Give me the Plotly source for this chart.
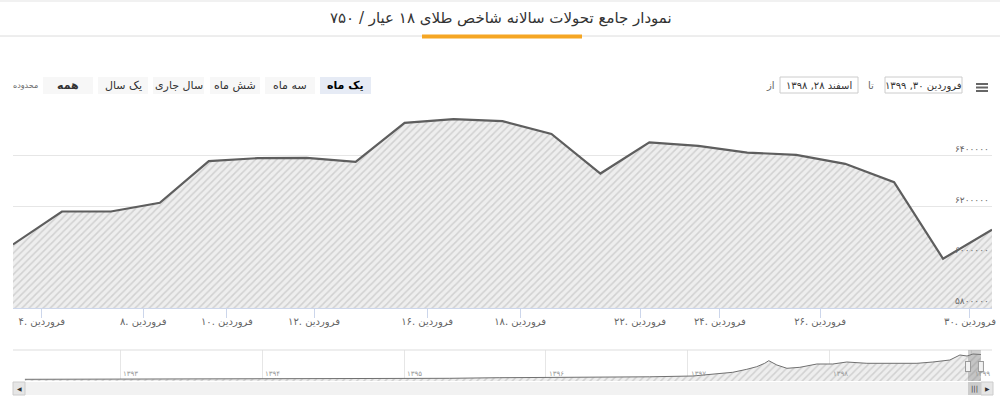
import plotly.graph_objects as go

# ---------------- data ----------------
# main series: 18k gold index (rial), ordinal trading points, Esfand 28 1398 -> Farvardin 30 1399
prices = [6050400, 6180300, 6180300, 6214600, 6378700, 6390600, 6391700, 6376000,
          6529500, 6544100, 6536200, 6486200, 6329900, 6452800, 6439000, 6412600,
          6403500, 6368100, 6296100, 5994100, 6108300]
point_index = list(range(len(prices)))

# x-axis ticks (ordinal positions of the date ticks) and their labels
x_tick_pos = [0.59, 2.66, 4.37, 6.15, 8.46, 10.36, 12.81, 14.44, 16.49, 19.55]
x_tick_text = ["۴. فروردین", "۸. فروردین", "۱۰. فروردین", "۱۲. فروردین", "۱۶. فروردین",
               "۱۸. فروردین", "۲۲. فروردین", "۲۴. فروردین", "۲۶. فروردین", "۳۰. فروردین"]

y_tick_vals = [5800000, 6000000, 6200000, 6400000, 6600000]
y_tick_text = ["۵۸۰۰۰۰۰", "۶۰۰۰۰۰۰", "۶۲۰۰۰۰۰", "۶۴۰۰۰۰۰", ""]

# navigator: long history (Jalali year as fraction, value in rial)
nav_years = [1392.328, 1392.646, 1392.984, 1393.491, 1393.999, 1394.478, 1394.998, 1395.322,
             1395.675, 1396.020, 1396.379, 1396.731, 1397.034, 1397.203, 1397.316, 1397.415,
             1397.485, 1397.541, 1397.570, 1397.627, 1397.698, 1397.789, 1397.909, 1398.021,
             1398.120, 1398.261, 1398.374, 1398.494, 1398.614, 1398.726, 1398.846, 1398.917,
             1398.967, 1399.009, 1399.065]
nav_values = [878000, 900600, 945200, 922900, 945200, 967400, 1011900, 1101000,
              1234500, 1279000, 1323600, 1434800, 1612900, 2058100, 2436500, 3104200,
              3683000, 4439700, 5018400, 4061300, 3326800, 3549400, 4283900, 4283900,
              4729000, 4439700, 4439700, 4283900, 4439700, 4729000, 5174200, 6287100,
              6064500, 6509700, 6398400]
nav_tick_years = [1393, 1394, 1395, 1396, 1397, 1398, 1399]
nav_tick_text = ["۱۳۹۳", "۱۳۹۴", "۱۳۹۵", "۱۳۹۶", "۱۳۹۷", "۱۳۹۸", "۱۳۹۹"]
nav_selection = [1398.974, 1399.065]

title_text = "نمودار جامع تحولات سالانه شاخص طلای ۱۸ عیار / ۷۵۰"
range_buttons = ["همه", "یک سال", "سال جاری", "شش ماه", "سه ماه", "یک ماه"]
selected_button = "یک ماه"
zoom_label = "محدوده"
date_from = "اسفند ۲۸, ۱۳۹۸"
date_to = "فروردین ۳۰, ۱۳۹۹"

# ---------------- layout helpers ----------------
W, H = 1000, 401
ML, MR = 13, 8
PW = W - ML - MR


def PX(px):
    return (px - ML) / PW


def PY(py):
    return 1 - py / H


FONT = "DejaVu Sans, Noto Sans, sans-serif"
hatch = dict(shape="/", bgcolor="#eeeeee", fgcolor="#b4b4b4", size=5, solidity=0.3)

fig = go.Figure()
fig.add_trace(go.Scatter(
    x=point_index, y=prices, mode="lines",
    line=dict(color="#5e5e5e", width=2.2),
    fill="tozeroy", fillpattern=hatch, fillcolor="#eeeeee",
    xaxis="x", yaxis="y", hoverinfo="skip", showlegend=False))

fig.add_trace(go.Scatter(
    x=nav_years, y=nav_values, mode="lines",
    line=dict(color="#707070", width=1),
    fill="tozeroy", fillpattern=hatch, fillcolor="#eeeeee",
    xaxis="x2", yaxis="y2", hoverinfo="skip", showlegend=False))

shapes = []
annotations = []

# y-axis labels (inside the plot, right aligned, just above each grid line)
for v, t in zip(y_tick_vals, y_tick_text):
    if t:
        annotations.append(dict(text=t, xref="x domain", yref="y", x=1, y=v,
                                xanchor="right", yanchor="bottom", xshift=-1, yshift=0,
                                showarrow=False,
                                font=dict(family=FONT, size=9, color="#666666")))

# title + separators
shapes.append(dict(type="rect", xref="paper", yref="paper", x0=PX(0), x1=PX(1000),
                   y0=PY(2), y1=PY(0), fillcolor="#f1f1f1", line=dict(width=0), layer="below"))
shapes.append(dict(type="line", xref="paper", yref="paper", x0=PX(0), x1=PX(1000),
                   y0=PY(36), y1=PY(36), line=dict(color="#dcdcdc", width=1)))
shapes.append(dict(type="rect", xref="paper", yref="paper", x0=PX(422), x1=PX(582),
                   y0=PY(38.5), y1=PY(34.5), fillcolor="#f5a623", line=dict(width=0)))
annotations.append(dict(text=title_text, xref="paper", yref="paper", x=PX(501), y=PY(18),
                        xanchor="center", yanchor="middle", showarrow=False,
                        font=dict(family=FONT, size=15, color="#333333")))

# range selector buttons
btn_x = [(43, 93), (98, 148), (153, 204), (210, 260), (265, 315), (320, 371)]
for label, (a, b) in zip(range_buttons, btn_x):
    sel = label == selected_button
    bold = sel or label == "همه"
    shapes.append(dict(type="rect", xref="paper", yref="paper", x0=PX(a), x1=PX(b),
                       y0=PY(94), y1=PY(77), fillcolor="#e6ebf5" if sel else "#f7f7f7",
                       line=dict(width=0)))
    annotations.append(dict(text=f"<b>{label}</b>" if bold else label, xref="paper", yref="paper",
                            x=PX((a + b) / 2), y=PY(85.5), xanchor="center", yanchor="middle",
                            showarrow=False, font=dict(family=FONT, size=11,
                                                       color="#000000" if sel else "#333333")))
annotations.append(dict(text=zoom_label, xref="paper", yref="paper", x=PX(25), y=PY(86),
                        xanchor="center", yanchor="middle", showarrow=False,
                        font=dict(family=FONT, size=8, color="#666666")))

# date inputs
for txt, (a, b) in [(date_to, (885, 962)), (date_from, (780, 858))]:
    shapes.append(dict(type="rect", xref="paper", yref="paper", x0=PX(a), x1=PX(b),
                       y0=PY(93), y1=PY(77), fillcolor="#ffffff",
                       line=dict(color="#cccccc", width=1)))
    annotations.append(dict(text=txt, xref="paper", yref="paper", x=PX((a + b) / 2), y=PY(85.5),
                            xanchor="center", yanchor="middle", showarrow=False,
                            font=dict(family=FONT, size=10, color="#333333")))
for txt, px in [("تا", 871), ("از", 770)]:
    annotations.append(dict(text=txt, xref="paper", yref="paper", x=PX(px), y=PY(85.5),
                            xanchor="center", yanchor="middle", showarrow=False,
                            font=dict(family=FONT, size=10, color="#666666")))
# hamburger menu
for yy in (84, 87.5, 91):
    shapes.append(dict(type="line", xref="paper", yref="paper", x0=PX(976), x1=PX(988),
                       y0=PY(yy), y1=PY(yy), line=dict(color="#666666", width=2)))

# navigator decorations
shapes.append(dict(type="line", xref="paper", yref="paper", x0=PX(13), x1=PX(992),
                   y0=PY(350), y1=PY(350), line=dict(color="#dddddd", width=1)))
shapes.append(dict(type="rect", xref="x2", yref="y2 domain", x0=nav_selection[0],
                   x1=nav_selection[1], y0=0, y1=1, fillcolor="rgba(120,120,120,0.35)",
                   line=dict(width=0)))
for i, yr in enumerate(nav_selection):
    shapes.append(dict(type="rect", xref="x2", yref="paper", x0=yr, x1=yr,
                       y0=PY(372), y1=PY(361), line=dict(color="#999999", width=6)))
    shapes.append(dict(type="rect", xref="x2", yref="paper", x0=yr, x1=yr,
                       y0=PY(371), y1=PY(362), line=dict(color="#f2f2f2", width=4)))
for yr, txt in zip(nav_tick_years, nav_tick_text):
    annotations.append(dict(text=txt, xref="x2", yref="paper", x=yr, y=PY(373.5),
                            xanchor="left", yanchor="middle", xshift=1, showarrow=False,
                            font=dict(family=FONT, size=7, color="#999999")))
# scrollbar
shapes.append(dict(type="rect", xref="paper", yref="paper", x0=PX(13), x1=PX(992),
                   y0=PY(395), y1=PY(382), fillcolor="#f2f2f2", line=dict(width=0)))
shapes.append(dict(type="rect", xref="paper", yref="paper", x0=PX(13), x1=PX(25),
                   y0=PY(395), y1=PY(382), fillcolor="#e6e6e6", line=dict(color="#cccccc", width=1)))
shapes.append(dict(type="rect", xref="paper", yref="paper", x0=PX(981), x1=PX(993),
                   y0=PY(395), y1=PY(382), fillcolor="#e6e6e6", line=dict(color="#cccccc", width=1)))
shapes.append(dict(type="rect", xref="x2", yref="paper", x0=nav_selection[0], x1=nav_selection[1],
                   y0=PY(395), y1=PY(382), fillcolor="#cccccc", line=dict(width=0)))
annotations.append(dict(text="◀", xref="paper", yref="paper", x=PX(19), y=PY(388.5),
                        xanchor="center", yanchor="middle", showarrow=False,
                        font=dict(family=FONT, size=6, color="#333333")))
annotations.append(dict(text="▶", xref="paper", yref="paper", x=PX(987), y=PY(388.5),
                        xanchor="center", yanchor="middle", showarrow=False,
                        font=dict(family=FONT, size=6, color="#333333")))
annotations.append(dict(text="|||", xref="x2", yref="paper", x=sum(nav_selection) / 2, y=PY(388.5),
                        xanchor="center", yanchor="middle", showarrow=False,
                        font=dict(family=FONT, size=7, color="#333333")))

fig.update_layout(
    width=W, height=H,
    margin=dict(l=ML, r=MR, t=0, b=0, autoexpand=False),
    paper_bgcolor="#ffffff", plot_bgcolor="#ffffff",
    font=dict(family=FONT, color="#666666"),
    showlegend=False, hovermode=False,
    xaxis=dict(domain=[0, 1], range=[0, len(prices) - 1], anchor="y", automargin=False,
               showgrid=False, zeroline=False, showline=True, linecolor="#ccd6eb",
               ticks="outside", ticklen=9, tickcolor="#ccd6eb",
               ticklabelstandoff=-5, ticklabeloverflow="allow",
               tickvals=x_tick_pos, ticktext=x_tick_text,
               tickfont=dict(family=FONT, size=10, color="#666666")),
    yaxis=dict(domain=[PY(308), PY(105)], range=[5800000, 6600000], anchor="x",
               side="right", automargin=False, showticklabels=False, ticks="",
               tickvals=y_tick_vals,
               showgrid=True, gridcolor="#e6e6e6", zeroline=False, showline=False),
    xaxis2=dict(domain=[0, 1], range=[1392.244, 1399.143], anchor="y2", automargin=False,
                showgrid=True, gridcolor="#e6e6e6", tickvals=nav_tick_years,
                showticklabels=False, zeroline=False, showline=False, ticks=""),
    yaxis2=dict(domain=[PY(381), PY(350)], range=[500000, 7400000], anchor="x2",
                automargin=False,
                showgrid=False, showticklabels=False, zeroline=False, showline=False),
    shapes=shapes, annotations=annotations,
)

fig.write_html("out.html", config=dict(displayModeBar=False),
               post_script="document.body.style.margin='0';document.body.style.overflow='hidden';")
